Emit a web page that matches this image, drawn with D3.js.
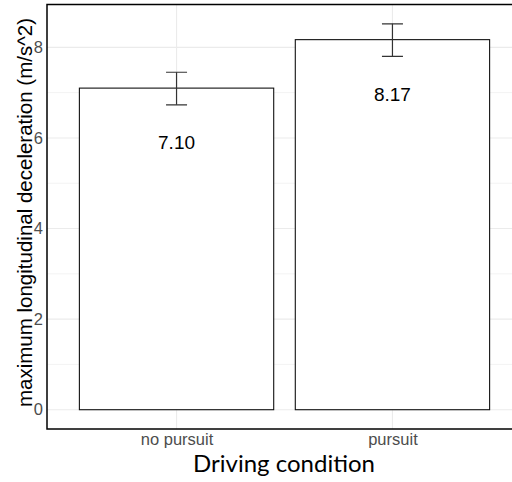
<!DOCTYPE html>
<html>
<head>
<meta charset="utf-8">
<script src="https://cdn.jsdelivr.net/npm/d3@7/dist/d3.min.js"></script>
<style>
  html, body { margin: 0; padding: 0; background: #fff; }
  svg { display: block; }
</style>
</head>
<body>
<svg id="chart" width="512" height="482"></svg>
<script>
// Mean maximum longitudinal deceleration by driving condition, with error bars
const conditions = ["no pursuit", "pursuit"];
const means = [7.10, 8.17];
const lower = [6.73, 7.80];
const upper = [7.45, 8.52];
const yTicks = [0, 2, 4, 6, 8];
const yMinorTicks = [1, 3, 5, 7];

const panel = { left: 47, right: 522, top: 4.5, bottom: 429 };

const svg = d3.select("#chart");

// y range expanded by 5% of data span
const yMax = d3.max(upper);
const pad = yMax * 0.05;
const y = d3.scaleLinear().domain([0 - pad, yMax + pad]).range([panel.bottom, panel.top]);

const x = d3.scalePoint().domain(conditions).range([panel.left, panel.right]).padding(0.6);
const barW = x.step() * 0.9;

svg.append("clipPath").attr("id", "panel-clip")
  .append("rect").attr("x", panel.left).attr("y", panel.top)
  .attr("width", panel.right - panel.left).attr("height", panel.bottom - panel.top);

const g = svg.append("g").attr("clip-path", "url(#panel-clip)");

// grid
g.selectAll("line.minor").data(yMinorTicks).join("line")
  .attr("x1", panel.left).attr("x2", panel.right)
  .attr("y1", d => y(d)).attr("y2", d => y(d))
  .attr("stroke", "#F3F3F3").attr("stroke-width", 1);
g.selectAll("line.major").data(yTicks).join("line")
  .attr("x1", panel.left).attr("x2", panel.right)
  .attr("y1", d => y(d)).attr("y2", d => y(d))
  .attr("stroke", "#EBEBEB").attr("stroke-width", 1.1);
g.selectAll("line.vmajor").data(conditions).join("line")
  .attr("x1", d => x(d)).attr("x2", d => x(d))
  .attr("y1", panel.top).attr("y2", panel.bottom)
  .attr("stroke", "#EBEBEB").attr("stroke-width", 1.1);

// bars
g.selectAll("rect.bar").data(conditions).join("rect")
  .attr("x", d => x(d) - barW / 2)
  .attr("y", (d, i) => y(means[i]))
  .attr("width", barW)
  .attr("height", (d, i) => y(0) - y(means[i]))
  .attr("fill", "#fff").attr("stroke", "#111").attr("stroke-width", 1.1);

// error bars
const capW = 21;
const eb = g.selectAll("g.eb").data(conditions).join("g")
  .attr("stroke", "#333").attr("stroke-width", 1.2).attr("fill", "none");
eb.append("line")
  .attr("x1", d => x(d)).attr("x2", d => x(d))
  .attr("y1", (d, i) => y(lower[i])).attr("y2", (d, i) => y(upper[i]));
eb.append("line")
  .attr("x1", d => x(d) - capW / 2).attr("x2", d => x(d) + capW / 2)
  .attr("y1", (d, i) => y(lower[i])).attr("y2", (d, i) => y(lower[i]));
eb.append("line")
  .attr("x1", d => x(d) - capW / 2).attr("x2", d => x(d) + capW / 2)
  .attr("y1", (d, i) => y(upper[i])).attr("y2", (d, i) => y(upper[i]));

// value labels inside the bars
g.selectAll("text.val").data(conditions).join("text")
  .attr("x", d => x(d))
  .attr("y", (d, i) => y(means[i] - 1.2))
  .attr("text-anchor", "middle").attr("dominant-baseline", "central")
  .attr("font-family", "'Liberation Sans', Arial, sans-serif")
  .attr("font-size", 19).attr("fill", "#000")
  .text((d, i) => means[i].toFixed(2));

// panel border
svg.append("rect")
  .attr("x", panel.left).attr("y", panel.top)
  .attr("width", panel.right - panel.left).attr("height", panel.bottom - panel.top)
  .attr("fill", "none").attr("stroke", "#000").attr("stroke-width", 1.5);

// y axis tick labels
const yAxis = d3.axisLeft(y).tickValues(yTicks).tickSize(0).tickPadding(4).tickFormat(d3.format("d"));
const ya = svg.append("g").attr("transform", `translate(${panel.left},0)`).call(yAxis);
ya.select(".domain").remove();
ya.selectAll("text").attr("font-family", "'Liberation Sans', Arial, sans-serif")
  .attr("font-size", 16.5).attr("fill", "#4D4D4D");

// x axis tick labels
const xAxis = d3.axisBottom(x).tickSize(0).tickPadding(4);
const xa = svg.append("g").attr("transform", `translate(0,${panel.bottom})`).call(xAxis);
xa.select(".domain").remove();
xa.selectAll("text").attr("font-family", "'Liberation Sans', Arial, sans-serif")
  .attr("font-size", 16.5).attr("fill", "#4D4D4D");

// axis titles
svg.append("text")
  .attr("x", 284).attr("y", 472)
  .attr("text-anchor", "middle")
  .attr("font-family", "Lato, 'Open Sans', sans-serif")
  .attr("font-size", 24).attr("fill", "#000")
  .text("Driving condition");

svg.append("text")
  .attr("transform", "translate(32,212.5) rotate(-90)")
  .attr("text-anchor", "middle")
  .attr("font-family", "'Liberation Sans', Arial, sans-serif")
  .attr("font-size", 20.5).attr("fill", "#000")
  .text("maximum longitudinal deceleration (m/s^2)");
</script>
</body>
</html>
